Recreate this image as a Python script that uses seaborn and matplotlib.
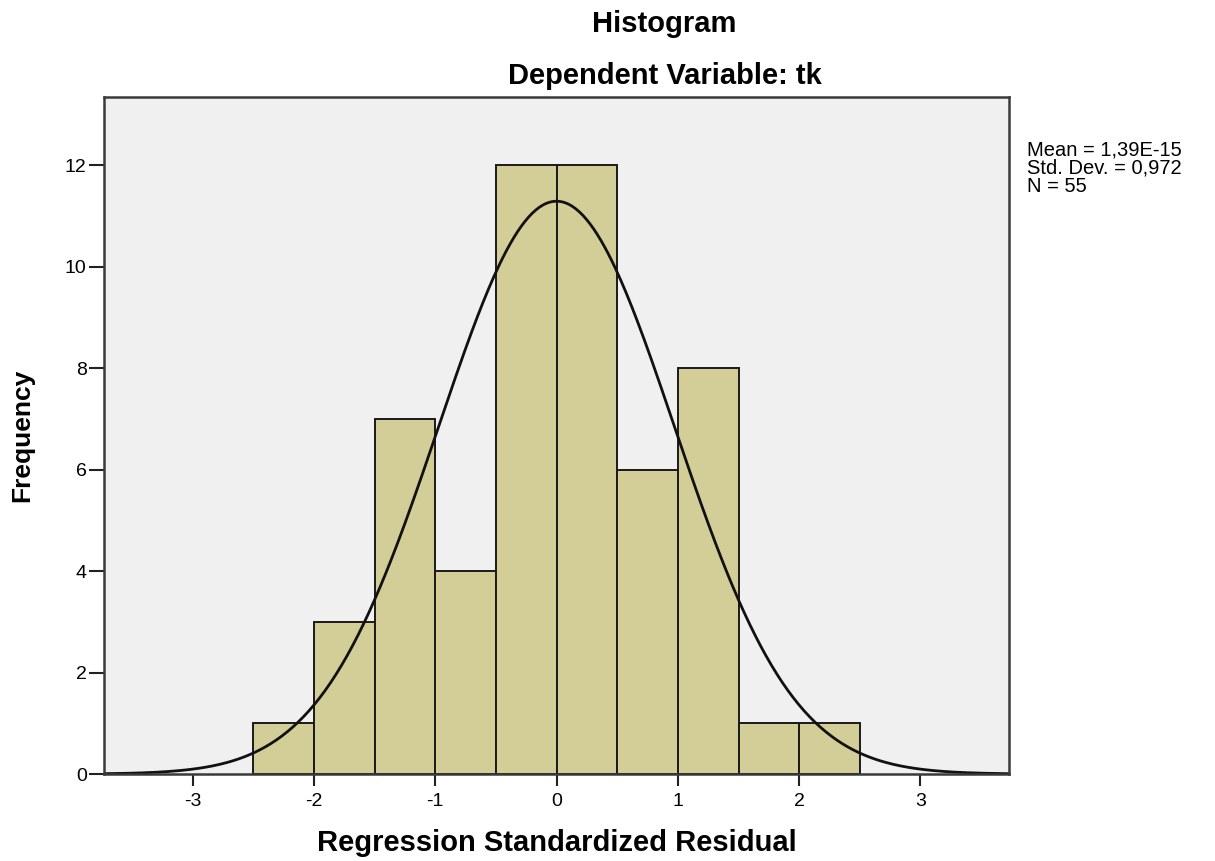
import numpy as np
import pandas as pd
import seaborn as sns
import matplotlib
matplotlib.use("Agg")
from matplotlib import pyplot as plt

# counts per bin (bins of width 0.5)
bin_edges = [-2.5, -2.0, -1.5, -1.0, -0.5, 0.0, 0.5, 1.0, 1.5, 2.0, 2.5]
bin_counts = [1, 3, 7, 4, 12, 12, 6, 8, 1, 1]

# summary statistics printed on the chart
mean_val = 1.39e-15
std_val = 0.972
n_val = 55

x_ticks = [-3, -2, -1, 0, 1, 2, 3]
y_ticks = [0, 2, 4, 6, 8, 10, 12]

centers = [(a + b) / 2 for a, b in zip(bin_edges[:-1], bin_edges[1:])]
df = pd.DataFrame({'resid': centers, 'freq': bin_counts})

sns.set_theme(style='white')
plt.rcParams['font.family'] = ['Liberation Sans', 'DejaVu Sans']
plt.rcParams['axes.unicode_minus'] = False
plt.rcParams['text.color'] = 'black'
plt.rcParams['axes.labelcolor'] = 'black'
plt.rcParams['xtick.color'] = 'black'
plt.rcParams['ytick.color'] = 'black'

fig = plt.figure(figsize=(12.15, 8.61), dpi=100)
ax = fig.add_axes([0.0856, 0.101, 0.7449, 0.7863])
ax.set_facecolor('#F0F0F0')

sns.histplot(data=df, x='resid', weights='freq', bins=bin_edges,
             color='#D3CE97', alpha=1.0, edgecolor='#1a1a1a', linewidth=1.4, ax=ax)

# normal curve scaled to the histogram
bw = bin_edges[1] - bin_edges[0]
xs = np.linspace(-3.73, 3.73, 500)
ys = n_val * bw * np.exp(-0.5 * ((xs - mean_val) / std_val) ** 2) / (std_val * np.sqrt(2 * np.pi))
sns.lineplot(x=xs, y=ys, color='#111111', linewidth=2.0, ax=ax)

ax.set_xlim(-3.73, 3.73)
ax.set_ylim(0, 13.34)
ax.set_xticks(x_ticks)
ax.set_yticks(y_ticks)
ax.tick_params(axis='x', direction='out', length=8.5, width=1.5, color='#222222',
               labelsize=14, pad=5, bottom=True)
ax.tick_params(axis='y', direction='out', length=10.5, width=1.5, color='#222222',
               labelsize=14, pad=2, left=True)
for s in ax.spines.values():
    s.set_color('#3a3a3a')
    s.set_linewidth(1.8)

ax.set_xlabel('Regression Standardized Residual', fontsize=21, fontweight='bold', labelpad=14)
ax.set_ylabel('Frequency', fontsize=19, fontweight='bold', labelpad=22)

fig.text(0.547, 1 - 32 / 861, 'Histogram', ha='center', va='baseline',
         fontsize=21, fontweight='bold')
fig.text(0.547, 1 - 84 / 861, 'Dependent Variable: tk', ha='center', va='baseline',
         fontsize=21, fontweight='bold')

stats_txt = 'Mean = 1,39E-15\nStd. Dev. = 0,972\nN = 55'
fig.text(1027 / 1215, 1 - 140 / 861, stats_txt, ha='left', va='top',
         fontsize=14.5, linespacing=0.95)

fig.savefig('out.png', dpi=100)
